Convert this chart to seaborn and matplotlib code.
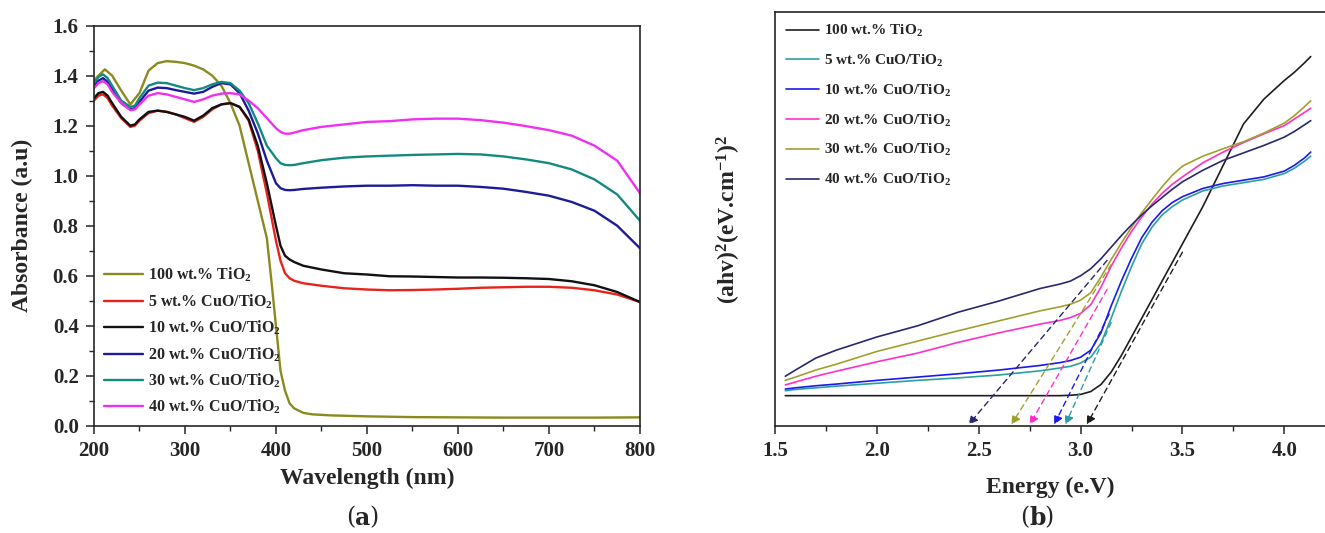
import numpy as np
import pandas as pd
import seaborn as sns
import matplotlib.pyplot as plt
from matplotlib.ticker import MultipleLocator

sns.set_style('ticks')
plt.rcParams['font.family'] = ['Liberation Serif', 'DejaVu Serif']
plt.rcParams['font.weight'] = 'bold'
plt.rcParams['mathtext.fontset'] = 'custom'
plt.rcParams['mathtext.rm'] = 'Liberation Serif:bold'
plt.rcParams['mathtext.bf'] = 'Liberation Serif:bold'
plt.rcParams['mathtext.it'] = 'Liberation Serif:bold'
plt.rcParams['mathtext.default'] = 'rm'

labels = ['100 wt.% TiO$_2$', '5 wt.% CuO/TiO$_2$', '10 wt.% CuO/TiO$_2$',
          '20 wt.% CuO/TiO$_2$', '30 wt.% CuO/TiO$_2$', '40 wt.% CuO/TiO$_2$']

# (a) UV-vis absorbance
wl_tio2 = [200, 205, 212, 220, 230, 240, 250, 260, 270, 280, 290, 300, 310, 320, 330, 340,
           350, 360, 370, 380, 390, 395, 400, 405, 410, 415, 420, 430, 440, 460, 500, 550,
           600, 650, 700, 750, 800]
abs_tio2 = [1.38, 1.40, 1.425, 1.40, 1.34, 1.285, 1.33, 1.42, 1.45, 1.458, 1.455, 1.45, 1.44,
            1.425, 1.40, 1.36, 1.29, 1.20, 1.05, 0.90, 0.75, 0.58, 0.40, 0.22, 0.14, 0.09,
            0.07, 0.052, 0.046, 0.042, 0.038, 0.035, 0.034, 0.033, 0.033, 0.033, 0.034]

wl = [200, 205, 210, 215, 220, 230, 240, 245, 250, 260, 270, 280, 290, 300, 310, 320, 330,
      340, 350, 360, 370, 380, 390, 400, 405, 410, 415, 420, 430, 450, 475, 500, 525, 550,
      575, 600, 625, 650, 675, 700, 725, 750, 775, 800]
abs_5 = [1.30, 1.32, 1.325, 1.31, 1.28, 1.23, 1.195, 1.20, 1.22, 1.25, 1.26, 1.255, 1.245,
         1.23, 1.215, 1.235, 1.265, 1.285, 1.29, 1.275, 1.22, 1.10, 0.93, 0.74, 0.66, 0.61,
         0.59, 0.58, 0.57, 0.56, 0.55, 0.545, 0.542, 0.543, 0.545, 0.548, 0.552, 0.554,
         0.556, 0.556, 0.552, 0.542, 0.525, 0.495]
abs_10 = [1.31, 1.33, 1.335, 1.32, 1.29, 1.235, 1.20, 1.205, 1.225, 1.255, 1.26, 1.255, 1.245,
          1.235, 1.22, 1.24, 1.27, 1.285, 1.29, 1.275, 1.225, 1.12, 0.97, 0.80, 0.72, 0.68,
          0.665, 0.655, 0.64, 0.625, 0.61, 0.605, 0.598, 0.597, 0.595, 0.593, 0.593, 0.592,
          0.59, 0.587, 0.578, 0.562, 0.535, 0.495]
abs_20 = [1.36, 1.38, 1.39, 1.375, 1.345, 1.29, 1.265, 1.27, 1.295, 1.34, 1.352, 1.35, 1.342,
          1.335, 1.328, 1.335, 1.355, 1.37, 1.365, 1.33, 1.26, 1.17, 1.06, 0.97, 0.95, 0.943,
          0.942, 0.943, 0.947, 0.952, 0.957, 0.96, 0.96, 0.962, 0.96, 0.96, 0.955, 0.948,
          0.935, 0.92, 0.895, 0.86, 0.80, 0.71]
abs_30 = [1.37, 1.395, 1.405, 1.39, 1.36, 1.30, 1.275, 1.28, 1.31, 1.36, 1.372, 1.37, 1.36,
          1.35, 1.342, 1.35, 1.365, 1.375, 1.37, 1.34, 1.29, 1.21, 1.12, 1.07, 1.05, 1.043,
          1.042, 1.043, 1.05, 1.062, 1.072, 1.077, 1.08, 1.083, 1.085, 1.087, 1.085, 1.077,
          1.065, 1.05, 1.025, 0.985, 0.925, 0.82]
abs_40 = [1.35, 1.37, 1.378, 1.365, 1.335, 1.29, 1.262, 1.265, 1.285, 1.32, 1.33, 1.325, 1.315,
          1.305, 1.295, 1.305, 1.32, 1.328, 1.33, 1.325, 1.30, 1.27, 1.23, 1.19, 1.175, 1.168,
          1.168, 1.172, 1.182, 1.195, 1.205, 1.215, 1.218, 1.225, 1.228, 1.228, 1.222, 1.212,
          1.198, 1.182, 1.16, 1.12, 1.06, 0.93]

# (b) Tauc plot
energy = [1.55, 1.6, 1.7, 1.8, 2.0, 2.2, 2.4, 2.6, 2.8, 2.9, 2.95, 3.0, 3.05, 3.1, 3.15, 3.2,
          3.25, 3.3, 3.35, 3.4, 3.45, 3.5, 3.6, 3.7, 3.8, 3.9, 4.0, 4.05, 4.1, 4.13]
tauc_tio2 = [7.3, 7.3, 7.3, 7.3, 7.3, 7.3, 7.3, 7.3, 7.3, 7.3, 7.4, 7.6, 8.3, 10.0, 13.0, 17.0,
             21.5, 26, 30.5, 35, 39.5, 44, 53, 63, 73, 79, 83.5, 85.5, 87.8, 89.3]
tauc_5 = [8.5, 8.8, 9.2, 9.6, 10.3, 11.0, 11.6, 12.3, 13.3, 14.0, 14.4, 15.2, 16.6, 20, 26,
          32.5, 38.5, 44, 48, 51, 53, 54.6, 56.8, 58, 58.8, 59.6, 61, 62.3, 64, 65.2]
tauc_10 = [8.9, 9.2, 9.7, 10.1, 11.0, 11.8, 12.6, 13.5, 14.6, 15.3, 15.8, 16.6, 18.3, 22.5, 29,
           35, 40.5, 45.5, 49.2, 52, 54, 55.4, 57.4, 58.6, 59.4, 60.2, 61.6, 63, 64.8, 66.2]
tauc_20 = [9.9, 10.6, 12.0, 13.2, 15.5, 17.6, 20.2, 22.5, 24.6, 25.5, 26.2, 27.2, 29.3, 33.5,
           38.6, 43, 47, 50.5, 53.6, 56.2, 58.4, 60.2, 63.6, 66.2, 68.5, 70.6, 72.6, 74.2,
           75.8, 76.8]
tauc_30 = [11.0, 11.8, 13.5, 14.9, 18.0, 20.5, 23.0, 25.4, 27.8, 28.8, 29.4, 30.4, 32.2, 36,
           40.2, 44.2, 48, 51.5, 54.7, 57.8, 60.6, 62.8, 65.2, 67.0, 68.7, 70.8, 73.2, 75,
           77.2, 78.6]
tauc_40 = [12.0, 13.5, 16.4, 18.3, 21.5, 24.2, 27.5, 30.2, 33.2, 34.3, 35.0, 36.3, 38, 40.4,
           43.2, 46.0, 48.6, 51, 53.2, 55.2, 57.2, 59.0, 61.8, 64.2, 66.0, 67.8, 69.8, 71.2,
           72.8, 73.8]

# band-gap extrapolation lines: upper point and x-axis intercept
tan_start_e = [3.50, 3.15, 3.14, 3.13, 3.15, 3.13]
tan_start_y = [42, 25, 27, 33, 39, 40]
band_gap = [3.03, 2.925, 2.87, 2.75, 2.66, 2.45]

colors_a = ['#8a8a1e', '#e8231c', '#111111', '#1c1c9a', '#138a80', '#f030f0']
colors_b = ['#1e1e1e', '#2aa0a0', '#1a1aee', '#ff30c8', '#a0a030', '#28286e']

abs_lists = [abs_tio2, abs_5, abs_10, abs_20, abs_30, abs_40]
wl_lists = [wl_tio2, wl, wl, wl, wl, wl]
tauc_lists = [tauc_tio2, tauc_5, tauc_10, tauc_20, tauc_30, tauc_40]

df_a = pd.concat([pd.DataFrame({'wl': w, 'abs': a, 'sample': lab})
                  for w, a, lab in zip(wl_lists, abs_lists, labels)])
df_b = pd.concat([pd.DataFrame({'e': energy, 'tauc': t, 'sample': lab})
                  for t, lab in zip(tauc_lists, labels)])

fig = plt.figure(figsize=(13.25, 5.33), dpi=100)
ax1 = fig.add_axes([0.0709, 0.201, 0.4121, 0.751])
ax2 = fig.add_axes([0.585, 0.201, 0.415, 0.776])

sns.lineplot(data=df_a, x='wl', y='abs', hue='sample', hue_order=labels,
             palette=dict(zip(labels, colors_a)), sort=False, estimator=None,
             linewidth=1.7, ax=ax1)
ax1.set_xlim(200, 800)
ax1.set_ylim(0, 1.6)
ax1.xaxis.set_major_locator(MultipleLocator(100))
ax1.xaxis.set_minor_locator(MultipleLocator(50))
ax1.yaxis.set_major_locator(MultipleLocator(0.2))
ax1.yaxis.set_minor_locator(MultipleLocator(0.1))
ax1.yaxis.set_major_formatter(plt.FormatStrFormatter('%.1f'))
ax1.set_xlabel('Wavelength (nm)', fontsize=17, fontweight='bold')
ax1.set_ylabel('Absorbance (a.u)', fontsize=17, fontweight='bold')
ax1.xaxis.set_label_coords(0.5, -0.105)
ax1.yaxis.set_label_coords(-0.112, 0.5)
h, l = ax1.get_legend_handles_labels()
ax1.legend(h, l, loc='lower left', bbox_to_anchor=(0.0, 0.0), frameon=False,
           fontsize=11.5, handlelength=2.5, labelspacing=0.5, handletextpad=0.3,
           borderaxespad=0.4, borderpad=0.2)

sns.lineplot(data=df_b, x='e', y='tauc', hue='sample', hue_order=labels,
             palette=dict(zip(labels, colors_b)), sort=False, estimator=None,
             linewidth=1.2, ax=ax2)
for e0, y0, bg, c in zip(tan_start_e, tan_start_y, band_gap, colors_b):
    ax2.annotate('', xy=(bg, 0.3), xytext=(e0, y0),
                 arrowprops=dict(arrowstyle='-|>', color=c, lw=1.0,
                                 linestyle=(0, (4, 3)), mutation_scale=13,
                                 shrinkA=0, shrinkB=0))
ax2.set_xlim(1.5, 4.2)
ax2.set_ylim(0, 100)
ax2.xaxis.set_major_locator(MultipleLocator(0.5))
ax2.xaxis.set_minor_locator(MultipleLocator(0.25))
ax2.xaxis.set_major_formatter(plt.FormatStrFormatter('%.1f'))
ax2.set_yticks([])
ax2.spines['right'].set_visible(False)
ax2.set_xlabel('Energy (e.V)', fontsize=17, fontweight='bold')
ax2.set_ylabel('(ahv)$^2$(eV.cm$^{-1}$)$^2$', fontsize=17, fontweight='bold')
ax2.xaxis.set_label_coords(0.5, -0.123)
ax2.yaxis.set_label_coords(-0.058, 0.5)
h, l = ax2.get_legend_handles_labels()
ax2.legend(h, l, loc='upper left', frameon=False, fontsize=11, handlelength=2.2,
           labelspacing=0.9, handletextpad=0.3, borderaxespad=0.3)

for ax in (ax1, ax2):
    for s in ax.spines.values():
        s.set_linewidth(1.2)
    ax.tick_params(which='major', direction='out', length=6, width=1.1, labelsize=15, pad=5)
    ax.tick_params(which='minor', direction='out', length=3.5, width=1.0)
    for t in ax.get_xticklabels() + ax.get_yticklabels():
        t.set_fontweight('bold')

fig.text(0.268, 0.028, '(', fontsize=17, fontweight='normal', ha='right', va='center',
         family='DejaVu Serif')
fig.text(0.268, 0.028, 'a', fontsize=17, fontweight='bold', ha='left', va='center',
         family='DejaVu Serif')
fig.text(0.2785, 0.028, ')', fontsize=17, fontweight='normal', ha='left', va='center',
         family='DejaVu Serif')
fig.text(0.777, 0.028, '(', fontsize=17, fontweight='normal', ha='right', va='center',
         family='DejaVu Serif')
fig.text(0.777, 0.028, 'b', fontsize=17, fontweight='bold', ha='left', va='center',
         family='DejaVu Serif')
fig.text(0.7885, 0.028, ')', fontsize=17, fontweight='normal', ha='left', va='center',
         family='DejaVu Serif')

fig.savefig('out.png', dpi=100)
